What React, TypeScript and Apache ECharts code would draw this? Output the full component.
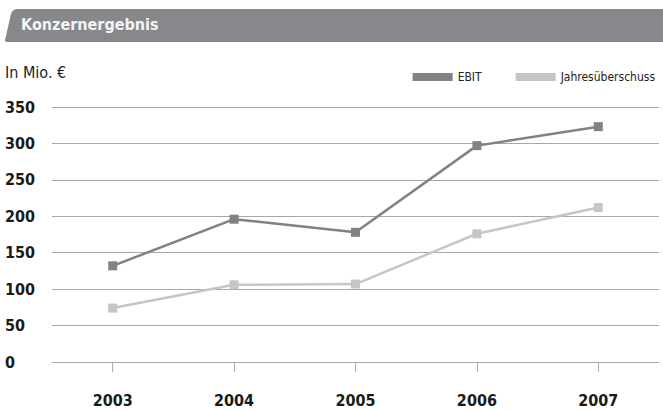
import React, { useEffect, useRef } from "react";
import * as echarts from "echarts";

const years = ["2003", "2004", "2005", "2006", "2007"];
const ebit = [132, 196, 178, 297, 323];
const jahresueberschuss = [74, 106, 107, 176, 212];
const yTicks = { min: 0, max: 350, interval: 50 };

const FONT = "'Liberation Sans Narrow', 'DejaVu Sans Condensed', 'Roboto Condensed', sans-serif";

echarts.graphic.registerShape(
  "logo",
  echarts.graphic.extendPath(
    "M5 40 L11 14 Q12.5 9 18 9 L663 9 L663 42 L7 42 Q4.5 42 5 40 Z",
    {}
  )
);

export default function App() {
  const ref = useRef<HTMLDivElement>(null);
  useEffect(() => {
    document.body.style.margin = "0";
    const chart = echarts.init(ref.current!, null, { renderer: "svg" });
    chart.setOption({
      animation: false,
      backgroundColor: "#ffffff",
      graphic: [
        { type: "logo", x: 0, y: 0, scaleX: 1, scaleY: 1, style: { fill: "#86888b" } },
        {
          type: "text",
          left: 21,
          top: 16,
          style: {
            text: "Konzernergebnis",
            fill: "#f4f4f4",
            font: `bold 16px ${FONT}`,
          },
        },
        {
          type: "text",
          left: 5,
          top: 64,
          style: {
            text: "In Mio. €",
            fill: "#222222",
            font: `16px ${FONT}`,
          },
        },
      ],
      legend: {
        right: 3,
        top: 66,
        orient: "horizontal",
        icon: "rect",
        itemWidth: 40,
        itemHeight: 8,
        itemGap: 34,
        textStyle: { fontFamily: FONT, fontSize: 12, color: "#222222" },
        data: ["EBIT", "Jahresüberschuss"],
      },
      grid: { left: 52, right: 4, top: 107, bottom: 48 },
      xAxis: {
        type: "category",
        data: years,
        boundaryGap: true,
        axisLine: { show: true, lineStyle: { color: "#a8a8a8", width: 1 } },
        axisTick: { show: true, alignWithLabel: true, length: 10, lineStyle: { color: "#b0b0b0" } },
        axisLabel: {
          margin: 30,
          fontFamily: FONT,
          fontWeight: "bold",
          fontSize: 16,
          color: "#1a1a1a",
        },
        splitLine: { show: false },
      },
      yAxis: {
        type: "value",
        min: yTicks.min,
        max: yTicks.max,
        interval: yTicks.interval,
        axisLine: { show: false },
        axisTick: { show: false },
        axisLabel: {
          align: "left",
          margin: 47,
          fontFamily: FONT,
          fontWeight: "bold",
          fontSize: 16,
          color: "#1a1a1a",
        },
        splitLine: { lineStyle: { color: "#a8a8a8", width: 1 } },
      },
      series: [
        {
          name: "EBIT",
          type: "line",
          data: ebit,
          symbol: "rect",
          symbolSize: 9,
          itemStyle: { color: "#808285" },
          lineStyle: { color: "#808285", width: 2.5 },
        },
        {
          name: "Jahresüberschuss",
          type: "line",
          data: jahresueberschuss,
          symbol: "rect",
          symbolSize: 9,
          itemStyle: { color: "#c6c6c6" },
          lineStyle: { color: "#c6c6c6", width: 2.5 },
        },
      ],
    });
    return () => chart.dispose();
  }, []);
  return <div ref={ref} style={{ width: 663, height: 410 }} />;
}
